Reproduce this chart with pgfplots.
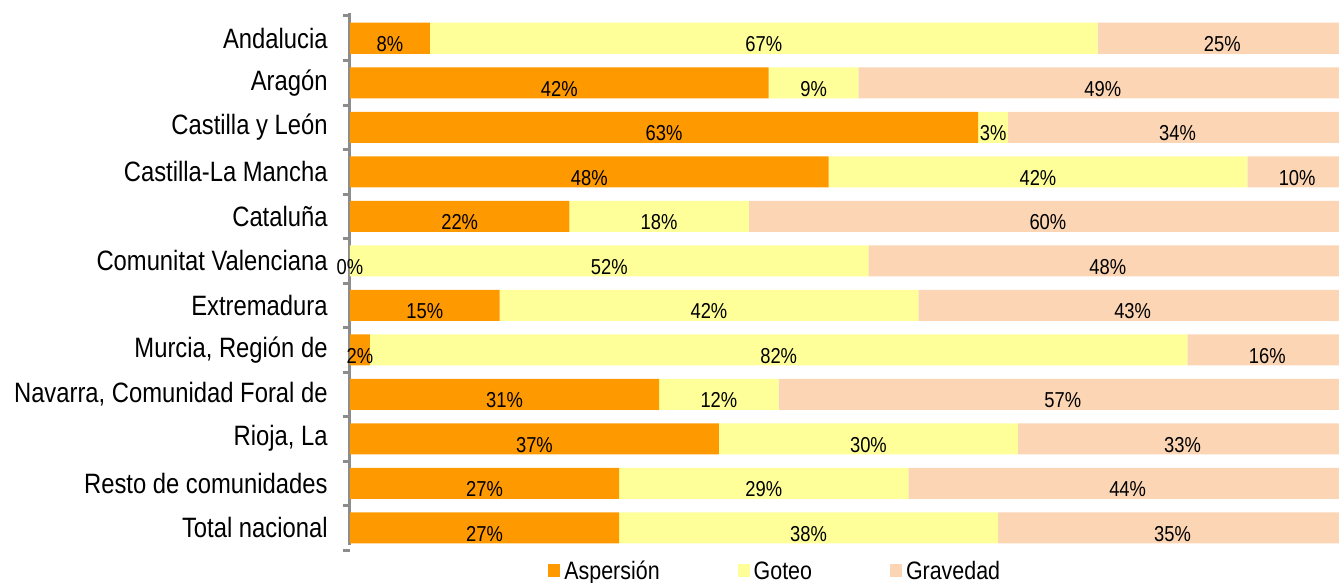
\documentclass[border=0pt]{standalone}
\usepackage{fontspec}
\setmainfont{Liberation Sans}[FakeStretch=0.85]
\usepackage{pgfplots}
\pgfplotsset{compat=1.18}
\usepackage{pgfplotstable}
\definecolor{asp}{HTML}{FF9900}
\definecolor{got}{HTML}{FFFF99}
\definecolor{gra}{HTML}{FCD5B4}
\definecolor{axgray}{HTML}{8C8C8C}
\pgfplotstableread{
idx asp got gra
0 8 67 25
1 42 9 49
2 63 3 34
3 48 42 10
4 22 18 60
5 0 52 48
6 15 42 43
7 2 82 16
8 31 12 57
9 37 30 33
10 27 29 44
11 27 38 35
}\data
\pgfplotstablecreatecol[create col/expr={\thisrow{asp}/2}]{aspc}\data
\pgfplotstablecreatecol[create col/expr={\thisrow{asp}+\thisrow{got}/2}]{gotc}\data
\pgfplotstablecreatecol[create col/expr={\thisrow{asp}+\thisrow{got}+\thisrow{gra}/2}]{grac}\data
\pgfplotsset{
  geom/.style={
    at={(175pt,16.5pt)}, anchor=south west,
    scale only axis, width=494.5pt, height=267pt,
    xmin=0, xmax=99.2,
    ymin=-0.5, ymax=11.5, y dir=reverse,
    clip=false,
  }
}
\begin{document}
\begin{tikzpicture}
\useasboundingbox (0,0) rectangle (669.5pt,291.5pt);
\begin{axis}[
  geom,
  xbar stacked, bar width=15.5pt,
  axis line style={draw=none},
  xtick=\empty,
  ytick={0,...,11},
  yticklabels={Andalucia, Aragón, Castilla y León, Castilla-La Mancha, Cataluña, Comunitat Valenciana, Extremadura, {Murcia, Región de}, {Navarra, Comunidad Foral de}, {Rioja, La}, Resto de comunidades, Total nacional},
  minor ytick={-0.5,0.5,...,11.5},
  major tick length=0pt,
  minor tick length=3.5pt,
  tick align=outside,
  ytick pos=left,
  minor tick style={axgray, line width=1.5pt},
  y tick label style={font=\fontsize{14}{16}\selectfont, inner sep=0pt, xshift=-11pt},
  legend columns=3,
  legend style={at={(0.431,0)}, anchor=north, yshift=-1.5pt, draw=none, fill=none, font=\fontsize{12.6}{14}\selectfont, /tikz/every even column/.append style={column sep=37pt}},
  legend image code/.code={\fill[#1] (0pt,-2.5pt) rectangle (6pt,4pt);},
]
\addplot[fill=asp, draw=none] table[x=asp, y=idx] {\data};
\addplot[fill=got, draw=none] table[x=got, y=idx] {\data};
\addplot[fill=gra, draw=none] table[x=gra, y=idx] {\data};
\legend{Aspersión, Goteo, Gravedad}
\draw[axgray, line width=1.5pt] (rel axis cs:0,0.01) -- (rel axis cs:0,1.005);
\end{axis}
\begin{axis}[
  geom,
  hide axis,
  /pgf/number format/assume math mode=true,
  nodes near coords={\pgfmathprintnumber{\pgfplotspointmeta}\%},
  every node near coord/.append style={font=\fontsize{10.8}{12}\selectfont, anchor=center, yshift=-3pt, text=black, inner sep=0pt},
]
\addplot[draw=none, mark=none, point meta=explicit] table[x=aspc, y=idx, meta=asp] {\data};
\addplot[draw=none, mark=none, point meta=explicit] table[x=gotc, y=idx, meta=got] {\data};
\addplot[draw=none, mark=none, point meta=explicit] table[x=grac, y=idx, meta=gra] {\data};
\end{axis}
\end{tikzpicture}
\end{document}
